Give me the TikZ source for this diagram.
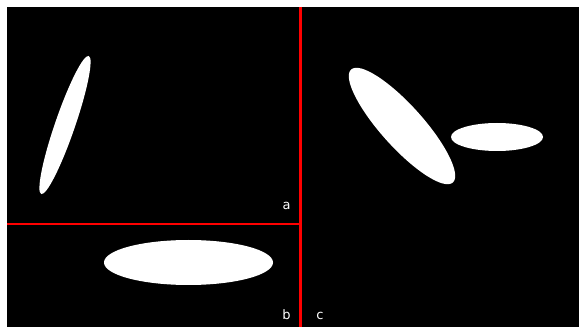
\documentclass[tikz,border=0pt]{standalone}
\usepackage{fontspec}
\setmainfont{DejaVu Sans}
\begin{document}
\begin{tikzpicture}[x=1pt,y=1pt,
  blob/.style={fill=white,draw=none},
  divider/.style={draw=red,line width=2.8pt},
  lbl/.style={text=white,font=\fontsize{13}{13}\selectfont,anchor=base,inner sep=0pt}]
\useasboundingbox (0,0) rectangle (579,327);
\fill[white] (0,0) rectangle (579,327);
\fill[black] (7,0) rectangle (579,320);
% ellipses
\fill[blob,rotate around={71:(65,202)}] (65,202) ellipse [x radius=73, y radius=10];
\fill[blob] (188.5,64.5) ellipse [x radius=84.5, y radius=22.5];
\fill[blob,rotate around={-48:(402,201)}] (402,201) ellipse [x radius=76, y radius=21];
\fill[blob] (497,190) ellipse [x radius=46, y radius=14];
% dividers
\coordinate (vtop) at (300.5,320);
\coordinate (vbot) at (300.5,0);
\coordinate (hl) at (7,103);
\coordinate (hr) at (300.5,103);
\draw[divider] (vtop) -- (vbot);
\draw[divider] (hl) -- (hr);
% labels
\node[lbl] (la) at (286.5,117) {a};
\node[lbl] (lb) at (286.5,8) {b};
\node[lbl] (lc) at (320,8) {c};
\end{tikzpicture}
\end{document}
